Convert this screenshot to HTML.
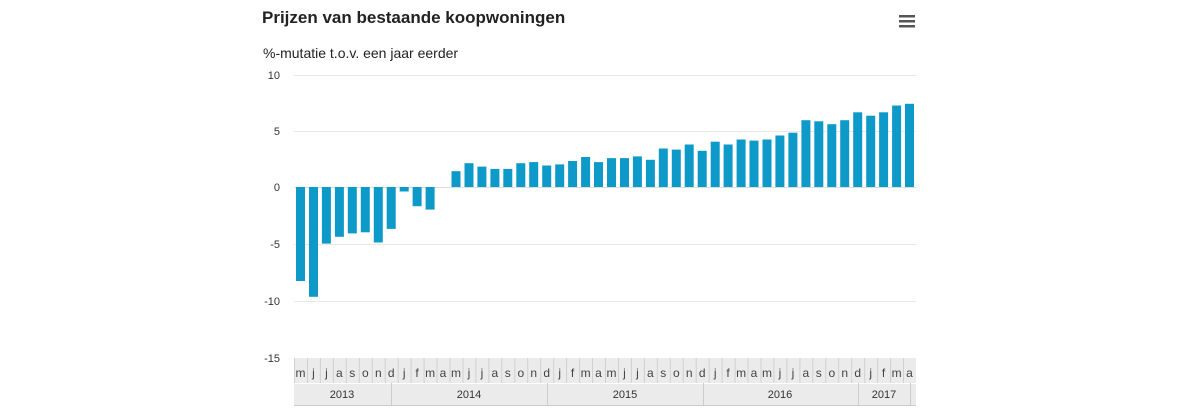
<!DOCTYPE html>
<html><head><meta charset="utf-8"><style>
html,body{margin:0;padding:0;background:#fff;width:1200px;height:420px;overflow:hidden}
svg{display:block}
</style></head><body>
<svg width="1200" height="420" xmlns="http://www.w3.org/2000/svg" font-family="Liberation Sans, sans-serif">
<text x="262" y="23" font-size="17" font-weight="bold" fill="#222">Prijzen van bestaande koopwoningen</text>
<g fill="#555"><rect x="899" y="15" width="16" height="2.5"/><rect x="899" y="20" width="16" height="2.5"/><rect x="899" y="25" width="16" height="2.5"/></g>
<text x="263" y="58" font-size="14" fill="#222">%-mutatie t.o.v. een jaar eerder</text>
<g stroke="#e8e8e8" stroke-width="1">
<line x1="294" x2="916" y1="75.5" y2="75.5"/><line x1="294" x2="916" y1="131.5" y2="131.5"/>
<line x1="294" x2="916" y1="244.5" y2="244.5"/><line x1="294" x2="916" y1="301.5" y2="301.5"/>
</g>
<g font-size="11" fill="#333" text-anchor="end">
<text x="280" y="79">10</text><text x="280" y="135">5</text><text x="280" y="191">0</text>
<text x="280" y="248">-5</text><text x="280" y="305">-10</text><text x="280" y="362">-15</text>
</g>
<line x1="294" x2="916" y1="187.5" y2="187.5" stroke="#ddd"/>
<g fill="#0e9ac8">
<rect x="296" y="187" width="9" height="94"/>
<rect x="309" y="187" width="9" height="109.8"/>
<rect x="321.9" y="187" width="9" height="56.6"/>
<rect x="334.9" y="187" width="9" height="49.8"/>
<rect x="347.8" y="187" width="9" height="46.4"/>
<rect x="360.8" y="187" width="9" height="45.3"/>
<rect x="373.8" y="187" width="9" height="55.5"/>
<rect x="386.7" y="187" width="9" height="41.9"/>
<rect x="399.7" y="187" width="9" height="4.5"/>
<rect x="412.6" y="187" width="9" height="19.2"/>
<rect x="425.6" y="187" width="9" height="22.6"/>
<rect x="451.5" y="171.2" width="9" height="15.8"/>
<rect x="464.5" y="163.2" width="9" height="23.8"/>
<rect x="477.4" y="166.6" width="9" height="20.4"/>
<rect x="490.4" y="168.9" width="9" height="18.1"/>
<rect x="503.3" y="168.9" width="9" height="18.1"/>
<rect x="516.3" y="163.2" width="9" height="23.8"/>
<rect x="529.2" y="162.1" width="9" height="24.9"/>
<rect x="542.2" y="165.5" width="9" height="21.5"/>
<rect x="555.2" y="164.4" width="9" height="22.6"/>
<rect x="568.1" y="161" width="9" height="26"/>
<rect x="581.1" y="157" width="9" height="30"/>
<rect x="594" y="162.1" width="9" height="24.9"/>
<rect x="607" y="158.1" width="9" height="28.9"/>
<rect x="620" y="158.1" width="9" height="28.9"/>
<rect x="632.9" y="156.4" width="9" height="30.6"/>
<rect x="645.9" y="159.8" width="9" height="27.2"/>
<rect x="658.8" y="148.5" width="9" height="38.5"/>
<rect x="671.8" y="149.6" width="9" height="37.4"/>
<rect x="684.7" y="144.5" width="9" height="42.5"/>
<rect x="697.7" y="150.8" width="9" height="36.2"/>
<rect x="710.7" y="141.7" width="9" height="45.3"/>
<rect x="723.6" y="144.5" width="9" height="42.5"/>
<rect x="736.6" y="139.5" width="9" height="47.5"/>
<rect x="749.5" y="140.6" width="9" height="46.4"/>
<rect x="762.5" y="139.5" width="9" height="47.5"/>
<rect x="775.4" y="135.5" width="9" height="51.5"/>
<rect x="788.4" y="132.7" width="9" height="54.3"/>
<rect x="801.4" y="120.2" width="9" height="66.8"/>
<rect x="814.3" y="121.3" width="9" height="65.7"/>
<rect x="827.3" y="124.2" width="9" height="62.8"/>
<rect x="840.2" y="120.2" width="9" height="66.8"/>
<rect x="853.2" y="112.3" width="9" height="74.7"/>
<rect x="866.2" y="115.7" width="9" height="71.3"/>
<rect x="879.1" y="112.3" width="9" height="74.7"/>
<rect x="892.1" y="105.5" width="9" height="81.5"/>
<rect x="905" y="103.8" width="9" height="83.2"/>
</g>
<rect x="294" y="358" width="622" height="48" fill="#ebebeb"/>
<line x1="294" x2="916" y1="383.5" y2="383.5" stroke="#fff"/>
<line x1="294" x2="916" y1="405.5" y2="405.5" stroke="#ccc"/>
<g stroke="#d0d0d0">
<line x1="294.5" x2="294.5" y1="358" y2="383"/><line x1="307.5" x2="307.5" y1="358" y2="383"/><line x1="320.4" x2="320.4" y1="358" y2="383"/><line x1="333.4" x2="333.4" y1="358" y2="383"/><line x1="346.3" x2="346.3" y1="358" y2="383"/><line x1="359.3" x2="359.3" y1="358" y2="383"/><line x1="372.3" x2="372.3" y1="358" y2="383"/><line x1="385.2" x2="385.2" y1="358" y2="383"/><line x1="398.2" x2="398.2" y1="358" y2="383"/><line x1="411.1" x2="411.1" y1="358" y2="383"/><line x1="424.1" x2="424.1" y1="358" y2="383"/><line x1="437" x2="437" y1="358" y2="383"/><line x1="450" x2="450" y1="358" y2="383"/><line x1="463" x2="463" y1="358" y2="383"/><line x1="475.9" x2="475.9" y1="358" y2="383"/><line x1="488.9" x2="488.9" y1="358" y2="383"/><line x1="501.8" x2="501.8" y1="358" y2="383"/><line x1="514.8" x2="514.8" y1="358" y2="383"/><line x1="527.7" x2="527.7" y1="358" y2="383"/><line x1="540.7" x2="540.7" y1="358" y2="383"/><line x1="553.7" x2="553.7" y1="358" y2="383"/><line x1="566.6" x2="566.6" y1="358" y2="383"/><line x1="579.6" x2="579.6" y1="358" y2="383"/><line x1="592.5" x2="592.5" y1="358" y2="383"/><line x1="605.5" x2="605.5" y1="358" y2="383"/><line x1="618.5" x2="618.5" y1="358" y2="383"/><line x1="631.4" x2="631.4" y1="358" y2="383"/><line x1="644.4" x2="644.4" y1="358" y2="383"/><line x1="657.3" x2="657.3" y1="358" y2="383"/><line x1="670.3" x2="670.3" y1="358" y2="383"/><line x1="683.2" x2="683.2" y1="358" y2="383"/><line x1="696.2" x2="696.2" y1="358" y2="383"/><line x1="709.2" x2="709.2" y1="358" y2="383"/><line x1="722.1" x2="722.1" y1="358" y2="383"/><line x1="735.1" x2="735.1" y1="358" y2="383"/><line x1="748" x2="748" y1="358" y2="383"/><line x1="761" x2="761" y1="358" y2="383"/><line x1="773.9" x2="773.9" y1="358" y2="383"/><line x1="786.9" x2="786.9" y1="358" y2="383"/><line x1="799.9" x2="799.9" y1="358" y2="383"/><line x1="812.8" x2="812.8" y1="358" y2="383"/><line x1="825.8" x2="825.8" y1="358" y2="383"/><line x1="838.7" x2="838.7" y1="358" y2="383"/><line x1="851.7" x2="851.7" y1="358" y2="383"/><line x1="864.7" x2="864.7" y1="358" y2="383"/><line x1="877.6" x2="877.6" y1="358" y2="383"/><line x1="890.6" x2="890.6" y1="358" y2="383"/><line x1="903.5" x2="903.5" y1="358" y2="383"/>
</g>
<g font-size="12" fill="#444" text-anchor="middle">
<text x="300.5" y="377">m</text><text x="313.5" y="377">j</text><text x="326.4" y="377">j</text><text x="339.4" y="377">a</text><text x="352.3" y="377">s</text><text x="365.3" y="377">o</text><text x="378.3" y="377">n</text><text x="391.2" y="377">d</text><text x="404.2" y="377">j</text><text x="417.1" y="377">f</text><text x="430.1" y="377">m</text><text x="443" y="377">a</text><text x="456" y="377">m</text><text x="469" y="377">j</text><text x="481.9" y="377">j</text><text x="494.9" y="377">a</text><text x="507.8" y="377">s</text><text x="520.8" y="377">o</text><text x="533.7" y="377">n</text><text x="546.7" y="377">d</text><text x="559.7" y="377">j</text><text x="572.6" y="377">f</text><text x="585.6" y="377">m</text><text x="598.5" y="377">a</text><text x="611.5" y="377">m</text><text x="624.5" y="377">j</text><text x="637.4" y="377">j</text><text x="650.4" y="377">a</text><text x="663.3" y="377">s</text><text x="676.3" y="377">o</text><text x="689.2" y="377">n</text><text x="702.2" y="377">d</text><text x="715.2" y="377">j</text><text x="728.1" y="377">f</text><text x="741.1" y="377">m</text><text x="754" y="377">a</text><text x="767" y="377">m</text><text x="779.9" y="377">j</text><text x="792.9" y="377">j</text><text x="805.9" y="377">a</text><text x="818.8" y="377">s</text><text x="831.8" y="377">o</text><text x="844.7" y="377">n</text><text x="857.7" y="377">d</text><text x="870.7" y="377">j</text><text x="883.6" y="377">f</text><text x="896.6" y="377">m</text><text x="909.5" y="377">a</text>
</g>
<g font-size="11" fill="#333" text-anchor="middle">
<text x="342" y="398">2013</text><text x="469" y="398">2014</text><text x="625" y="398">2015</text><text x="780" y="398">2016</text><text x="884" y="398">2017</text>
</g>
<g stroke="#ccc"><line x1="391.5" x2="391.5" y1="383" y2="406"/><line x1="547.5" x2="547.5" y1="383" y2="406"/><line x1="703.5" x2="703.5" y1="383" y2="406"/><line x1="858.5" x2="858.5" y1="383" y2="406"/><line x1="910.5" x2="910.5" y1="383" y2="406"/></g>
</svg>
</body></html>
